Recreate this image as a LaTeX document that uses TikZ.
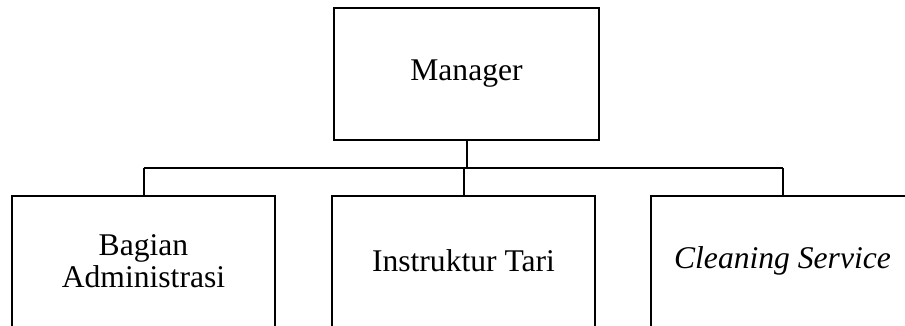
\documentclass[tikz,border=0pt]{standalone}
\usepackage{fontspec}
\setmainfont{Liberation Serif}
\begin{document}
\begin{tikzpicture}[x=1pt,y=-1pt,
  orgbox/.style={rectangle, inner sep=0pt, align=center,
    minimum width=263pt, minimum height=130pt,
    font=\fontsize{31.6}{32.5}\selectfont},
  link/.style={draw=black, line width=2pt},
  edge/.style={draw=black, line width=2pt, line join=miter}]
\useasboundingbox (0,0) rectangle (905,326);
\clip (0,0) rectangle (905,326);
\fill[white] (0,0) rectangle (905,326);
\node[orgbox, draw=black, line width=2pt, minimum width=265pt, minimum height=132pt] (mgr) at (466.5,74) {Manager};
\node[orgbox] (adm) at (143.5,261) {Bagian\\Administrasi};
\node[orgbox] (ins) at (463.5,261) {Instruktur Tari};
\node[orgbox] (cle) at (782.5,261) {\itshape Cleaning Service};
% open-bottomed outlines (boxes run off the lower edge)
\draw[edge] ([yshift=-12pt]adm.south west) -- (adm.north west) -- (adm.north east) -- ([yshift=-12pt]adm.south east);
\draw[edge] ([yshift=-12pt]ins.south west) -- (ins.north west) -- (ins.north east) -- ([yshift=-12pt]ins.south east);
\draw[edge] ([yshift=-12pt]cle.south west) -- (cle.north west) -- (cle.north east) -- ([yshift=-12pt]cle.south east);
\coordinate (busL) at (143.5,168);
\coordinate (busR) at (782.5,168);
\draw[link] (busL) -- (busR);
\draw[link] (mgr.south) -- (mgr.south |- busL);
\draw[link] (adm.north) -- (adm.north |- busL);
\draw[link] (ins.north) -- (ins.north |- busL);
\draw[link] (cle.north) -- (cle.north |- busL);
\end{tikzpicture}
\end{document}
